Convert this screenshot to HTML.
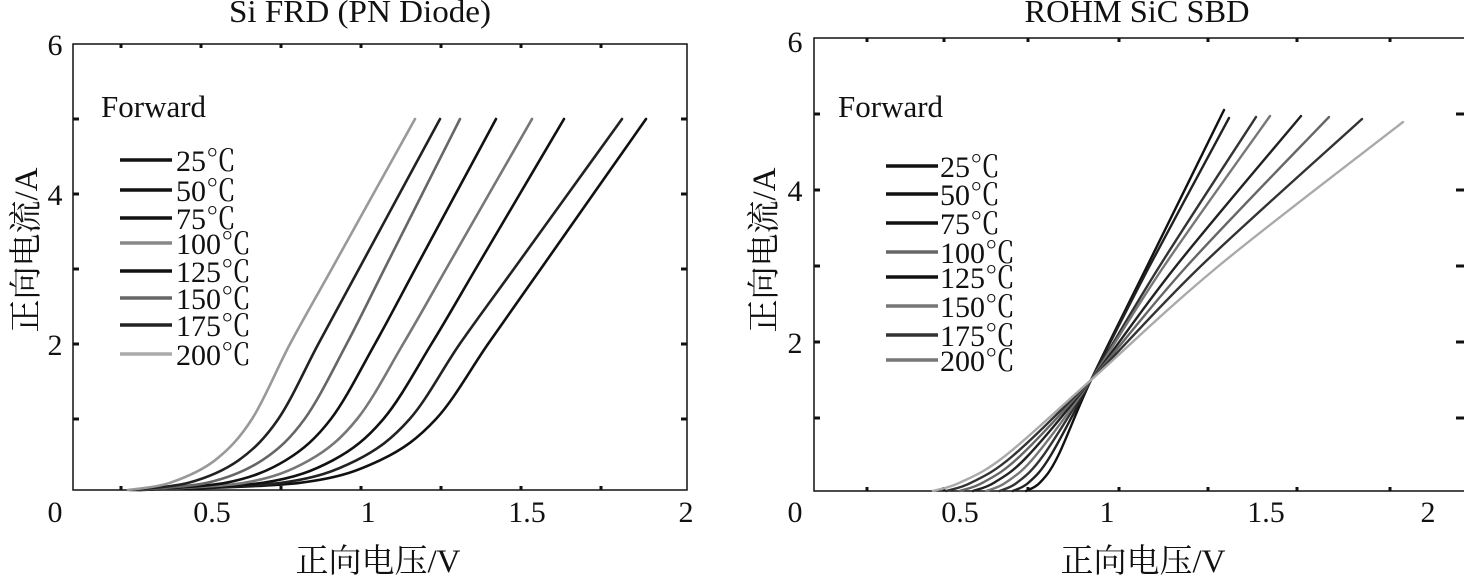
<!DOCTYPE html>
<html><head><meta charset="utf-8"><style>
html,body{margin:0;padding:0;background:#fff;}
svg{display:block;}
text{font-family:"Liberation Serif","Noto Serif CJK SC",serif;fill:#111;}
</style></head><body>
<svg id="s" width="1464" height="578" viewBox="0 0 1464 578" xmlns="http://www.w3.org/2000/svg">
<g font-size="32">
<text x="360" y="22" text-anchor="middle" textLength="262" lengthAdjust="spacingAndGlyphs">Si FRD (PN Diode)</text>
<text x="1137" y="22" text-anchor="middle" textLength="225" lengthAdjust="spacingAndGlyphs">ROHM SiC SBD</text>
</g>
<rect x="73" y="44" width="614" height="446" fill="none" stroke="#111" stroke-width="1.5"/>
<g stroke="#111" stroke-width="3">
<path d="M73 119h6M73 194h6M73 269h6M73 344h6M73 419h6M681 119h6M681 194h6M681 269h6M681 344h6M681 419h6"/>
<path d="M121 44v4M201 44v4M281 44v4M361 44v4M441 44v4M521 44v4M601 44v4M121 490v-4M201 490v-4M281 490v-4M361 490v-4M441 490v-4M521 490v-4M601 490v-4"/>
</g>
<rect x="814" y="38" width="660" height="453" fill="none" stroke="#111" stroke-width="1.5"/>
<g stroke="#111" stroke-width="3">
<path d="M814 114h6M814 190h6M814 266h6M814 342h6M814 418h6M1456 114h8M1456 190h8M1456 266h8M1456 342h8M1456 418h8"/>
<path d="M867 38v4M944 38v4M1028 38v4M1119 38v4M1208 38v4M1297 38v4M1390 38v4M867 491v-4M944 491v-4M1028 491v-4M1119 491v-4M1208 491v-4M1297 491v-4M1390 491v-4"/>
</g>
<g font-size="30" text-anchor="middle">
<text x="55" y="55">6</text><text x="55" y="205">4</text><text x="55" y="355">2</text><text x="55" y="522">0</text>
<text x="212" y="522">0.5</text><text x="368" y="522">1</text><text x="527" y="522">1.5</text><text x="686" y="522">2</text>
<text x="795" y="52">6</text><text x="795" y="201">4</text><text x="795" y="353">2</text><text x="795" y="522">0</text>
<text x="960" y="522">0.5</text><text x="1107" y="522">1</text><text x="1266" y="522">1.5</text><text x="1428" y="522">2</text>
</g>
<g font-size="33" text-anchor="middle">
<text x="378" y="572">正向电压/V</text>
<text x="1143" y="572">正向电压/V</text>
<text transform="translate(37,250) rotate(-90)">正向电流/A</text>
<text transform="translate(775,250) rotate(-90)">正向电流/A</text>
</g>
<g font-size="31">
<text x="101" y="117">Forward</text>
<text x="838" y="117">Forward</text>
</g>
<g id="curves" fill="none" stroke-linecap="round"></g>
<g id="leg"></g>
</svg>
<script>
var NS="http://www.w3.org/2000/svg";
function path(pts){
 var d="M"+pts[0][0].toFixed(1)+" "+pts[0][1].toFixed(1);
 for(var i=0;i<pts.length-1;i++){
  var p0=pts[Math.max(i-1,0)],p1=pts[i],p2=pts[i+1],p3=pts[Math.min(i+2,pts.length-1)];
  var c1=[p1[0]+(p2[0]-p0[0])/6,p1[1]+(p2[1]-p0[1])/6];
  var c2=[p2[0]-(p3[0]-p1[0])/6,p2[1]-(p3[1]-p1[1])/6];
  d+=" C"+c1[0].toFixed(1)+" "+c1[1].toFixed(1)+" "+c2[0].toFixed(1)+" "+c2[1].toFixed(1)+" "+p2[0].toFixed(1)+" "+p2[1].toFixed(1);
 }
 return d;
}
function add(d,c,w){var p=document.createElementNS(NS,"path");p.setAttribute("d",d);p.setAttribute("stroke",c);p.setAttribute("stroke-width",w);document.getElementById("curves").appendChild(p);}
var A=[140,300,380,436,488],B=[128,170,215,252,290];
var Is=[0,0.15,0.45,1,2];
var x5=[646,622,564,532,496,460,440,415];
var lc=["#111","#222","#111","#777","#111","#666","#222","#999"];
for(var k=0;k<8;k++){var t=k/7,pts=[];
 for(var j=0;j<Is.length;j++){pts.push([A[j]+(B[j]-A[j])*t,494-75*Is[j]]);}
 pts[0][1]=490;
 var x2=pts[4][0],xe=x5[k];
 pts.push([x2+(xe-x2)/3,494-75*3]);
 pts.push([x2+2*(xe-x2)/3,494-75*4]);
 pts.push([xe,119]);
 add(path(pts),lc[k],2.6);}
var RA=[1026,1040,1058,1091],RB=[933,960,1005,1091];
var RI=[0,0.15,0.5,1.5];
var re=[[1224,110,5.05],[1229,118,4.95],[1256,117,4.96],[1270,116,4.97],[1301,116,4.97],[1329,117,4.96],[1362,119,4.93],[1403,122,4.9]];
var rc=["#111","#222","#333","#777","#222","#666","#333","#aaa"];
for(var k=0;k<8;k++){var t=k/7,pts=[];
 for(var j=0;j<RI.length;j++){pts.push([RA[j]+(RB[j]-RA[j])*t,494-76*RI[j]]);}
 pts[0][1]=491;
 var e=re[k];
 var f=1.5/(e[2]-1.5);
 var mx=1091+(e[0]-1091)*f - 10*t;
 pts.push([mx,494-76*3]);
 pts.push([e[0],e[1]]);
 add(path(pts),rc[k],2.4);}
var labs=["25℃","50℃","75℃","100℃","125℃","150℃","175℃","200℃"];
var ly=[160,190,218,243,271,298,325,354], ry=[166,194,223,252,277,306,335,360];
var g=document.getElementById("leg");
function leg(x1,x2,tx,ys,cc){for(var i=0;i<8;i++){
 var l=document.createElementNS(NS,"line");l.setAttribute("x1",x1);l.setAttribute("x2",x2);l.setAttribute("y1",ys[i]);l.setAttribute("y2",ys[i]);l.setAttribute("stroke",cc[i]);l.setAttribute("stroke-width",3.5);g.appendChild(l);
 var s=document.createElementNS(NS,"text");s.setAttribute("x",tx);s.setAttribute("y",ys[i]+11);s.setAttribute("font-size","30");s.textContent=labs[i];g.appendChild(s);}}
leg(120,172,176,ly,["#111","#111","#111","#888","#111","#666","#222","#aaa"]);
leg(886,938,940,ry,["#111","#111","#111","#666","#111","#777","#333","#777"]);
</script>
</body></html>
